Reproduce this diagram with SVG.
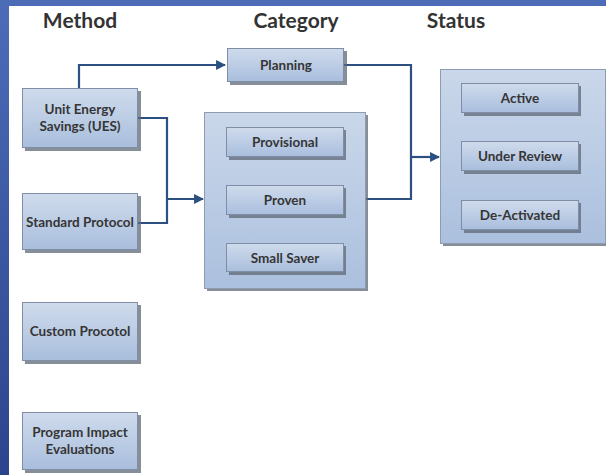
<svg xmlns="http://www.w3.org/2000/svg" width="606" height="475" viewBox="0 0 606 475">
<defs>
<linearGradient id="bg" x1="0" y1="0" x2="0" y2="1">
<stop offset="0" stop-color="#4d6cb8"/>
<stop offset="1" stop-color="#2c448c"/>
</linearGradient>
<linearGradient id="box" x1="0" y1="0" x2="0" y2="1">
<stop offset="0" stop-color="#cfdbec"/>
<stop offset="1" stop-color="#a9bedd"/>
</linearGradient>
<linearGradient id="cont" x1="0" y1="0" x2="0" y2="1">
<stop offset="0" stop-color="#cad7ea"/>
<stop offset="1" stop-color="#abc0de"/>
</linearGradient>
<marker id="arr" viewBox="0 0 10 10" refX="9" refY="5" markerWidth="4.5" markerHeight="4.5" orient="auto" markerUnits="strokeWidth">
<path d="M0,0 L10,5 L0,10 z" fill="#2d5082"/>
</marker>
</defs>
<style>
.hdr{font-family:Lato,"Open Sans","Liberation Sans",sans-serif;font-weight:bold;font-size:21px;fill:#333333;text-anchor:middle}
.lbl{font-family:Lato,"Open Sans","Liberation Sans",sans-serif;font-weight:bold;font-size:13.5px;fill:#353535;text-anchor:middle}
.box{fill:url(#box);stroke:#7f8ea6;stroke-width:1}
.cont{fill:url(#cont);stroke:#8e9bb0;stroke-width:1}
.sh{fill:#5e6876;opacity:0.75}
.conn{fill:none;stroke:#2d5082;stroke-width:2.2}
</style>
<rect x="0" y="0" width="606" height="475" fill="url(#bg)"/>
<rect x="9" y="6" width="597" height="469" fill="#ffffff"/>
<text class="hdr" x="80" y="28">Method</text>
<text class="hdr" x="296" y="28">Category</text>
<text class="hdr" x="456" y="28">Status</text>

<g id="connectors">
<path class="conn" d="M79,88 V65 H225" marker-end="url(#arr)"/>
<path class="conn" d="M138,118 H167 V223 H138"/>
<path class="conn" d="M167,199 H203" marker-end="url(#arr)"/>
<path class="conn" d="M344,65 H411 V199 H366"/>
<path class="conn" d="M411,157 H439" marker-end="url(#arr)"/>
</g>

<g id="planning">
<rect class="sh" x="230" y="51" width="117" height="34"/>
<rect class="box" x="227.5" y="48.5" width="116" height="33"/>
<text class="lbl" x="286" y="70">Planning</text>
</g>

<g id="ues">
<rect class="sh" x="25" y="91" width="116" height="60"/>
<rect class="box" x="22.5" y="88.5" width="115" height="59"/>
<text class="lbl" x="80" y="114">Unit Energy</text>
<text class="lbl" x="80" y="131">Savings (UES)</text>
</g>

<g id="standard-protocol">
<rect class="sh" x="25" y="196" width="116" height="57"/>
<rect class="box" x="22.5" y="193.5" width="115" height="56"/>
<text class="lbl" x="80" y="227">Standard Protocol</text>
</g>

<g id="custom-procotol">
<rect class="sh" x="25" y="305" width="116" height="59"/>
<rect class="box" x="22.5" y="302.5" width="115" height="58"/>
<text class="lbl" x="80" y="336">Custom Procotol</text>
</g>

<g id="program-impact">
<rect class="sh" x="25" y="415" width="116" height="58"/>
<rect class="box" x="22.5" y="412.5" width="115" height="57"/>
<text class="lbl" x="80" y="437">Program Impact</text>
<text class="lbl" x="80" y="454">Evaluations</text>
</g>

<g id="category">
<rect class="sh" x="207" y="115" width="161" height="176"/>
<rect class="cont" x="204.5" y="112.5" width="161" height="176"/>
</g>

<g id="provisional">
<rect class="sh" x="229" y="130" width="117" height="30"/>
<rect class="box" x="226.5" y="127.5" width="117" height="29"/>
<text class="lbl" x="285" y="146.5">Provisional</text>
</g>

<g id="proven">
<rect class="sh" x="229" y="188" width="117" height="30"/>
<rect class="box" x="226.5" y="185.5" width="117" height="29"/>
<text class="lbl" x="285" y="204.5">Proven</text>
</g>

<g id="small-saver">
<rect class="sh" x="229" y="246" width="117" height="29"/>
<rect class="box" x="226.5" y="243.5" width="117" height="28"/>
<text class="lbl" x="285" y="262.5">Small Saver</text>
</g>

<g id="status">
<rect class="sh" x="443" y="72" width="165" height="174"/>
<rect class="cont" x="440.5" y="69.5" width="165" height="174"/>
</g>

<g id="active">
<rect class="sh" x="464" y="86" width="117" height="30"/>
<rect class="box" x="461.5" y="83.5" width="117" height="29"/>
<text class="lbl" x="520" y="102.5">Active</text>
</g>

<g id="under-review">
<rect class="sh" x="464" y="144" width="117" height="30"/>
<rect class="box" x="461.5" y="141.5" width="117" height="29"/>
<text class="lbl" x="520" y="160.5">Under Review</text>
</g>

<g id="de-activated">
<rect class="sh" x="464" y="203" width="117" height="30"/>
<rect class="box" x="461.5" y="200.5" width="117" height="29"/>
<text class="lbl" x="520" y="219.5">De-Activated</text>
</g>
</svg>
